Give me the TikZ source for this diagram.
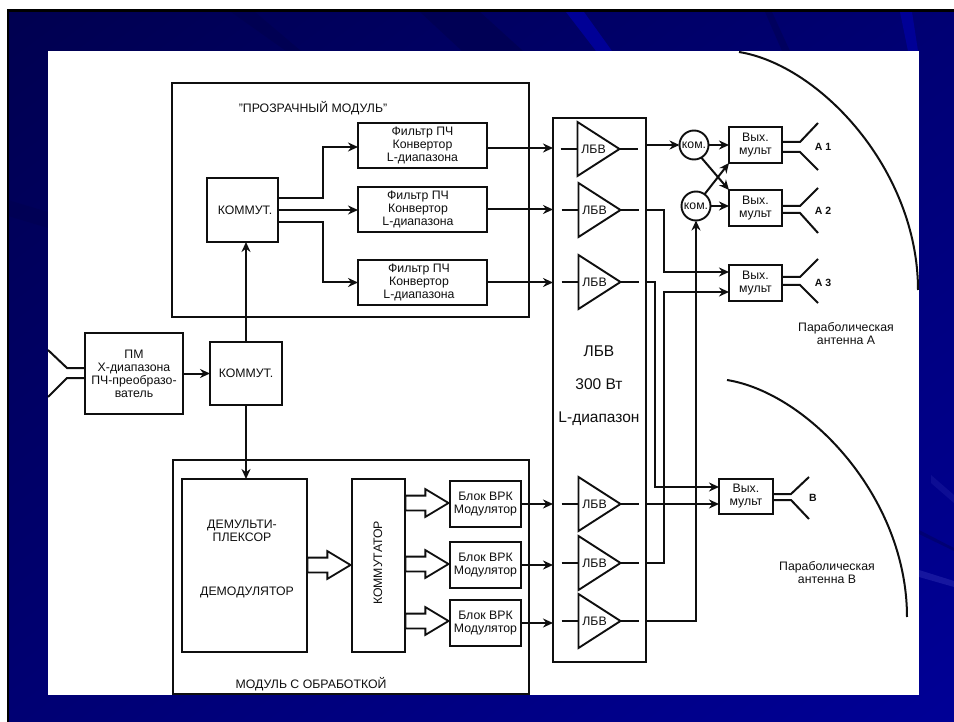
\documentclass[tikz,border=0pt]{standalone}
\usepackage{fontspec}
\setmainfont{Liberation Sans}
\usepackage{xcolor}
\usetikzlibrary{
  shapes.geometric, shapes.arrows, arrows.meta, positioning, shadings
}
\definecolor{slidedark}{RGB}{0,0,80}
\definecolor{slidemid}{RGB}{0,0,115}
\definecolor{slidelight}{RGB}{0,0,150}
\definecolor{ink}{RGB}{15,15,15}
\definecolor{streak}{RGB}{90,90,210}

\begin{document}
\begin{tikzpicture}[
  x=1pt, y=-1pt,
  every node/.style={text=ink, inner sep=0pt, outer sep=0pt,
    font=\fontsize{12.3}{13}\selectfont, align=center},
  box/.style={rectangle, draw=ink, line width=1.9pt},
  frame/.style={box, minimum width=357pt, minimum height=234pt},
  filterbox/.style={box, minimum width=129pt, minimum height=45pt},
  blockbox/.style={box, minimum width=71pt, minimum height=46pt},
  muxbox/.style={box, minimum width=53pt, minimum height=36pt},
  swbox/.style={box, minimum width=72pt, minimum height=63pt},
  combox/.style={circle, draw=ink, line width=1.9pt, minimum size=29pt},
  tube/.style={isosceles triangle, isosceles triangle stretches,
    draw=ink, line width=1.9pt, minimum width=54pt, minimum height=42pt,
    anchor=west},
  hollow/.style={single arrow, draw=ink, fill=white, line width=1.8pt,
    inner ysep=6.5pt, minimum width=26pt, minimum height=43pt,
    single arrow head extend=6.5pt, single arrow tip angle=62, anchor=tail},
  note/.style={font=\fontsize{12.3}{13}\selectfont},
  wire/.style={draw=ink, line width=2pt},
  arrow/.style={wire, -{Stealth[length=10pt,width=9pt]}}
]
\useasboundingbox (0,0) rectangle (954,722);

% slide background
\fill[white] (0,0) rectangle (954,722);
\shade[upper left=slidedark, upper right=slidemid,
       lower left=slidemid, lower right=slidelight] (8,10) rectangle (954,722);
\fill[slidedark, opacity=.7] (231,12) -- (255,12) -- (301,51) -- (286,51) -- cycle;
\fill[slidedark, opacity=.7] (420,12) -- (480,12) -- (523,51) -- (462,51) -- cycle;
\fill[slidelight] (566,12) -- (584,12) -- (612,51) -- (596,51) -- cycle;
\fill[slidedark, opacity=.5] (765,12) -- (772,12) -- (790,51) -- (782,51) -- cycle;
\fill[slidelight] (900,12) -- (912,12) -- (918,51) -- (908,51) -- cycle;
\fill[slidedark, opacity=.5] (8,200) -- (48,212) -- (48,228) -- (8,216) -- cycle;
\fill[streak, opacity=.25] (919,570) -- (954,581) -- (954,587) -- (919,577) -- cycle;
\fill[streak, opacity=.15] (931,475) -- (954,495) -- (954,503) -- (931,483) -- cycle;
\fill[slidedark, opacity=.4] (919,530) -- (954,548) -- (954,551) -- (919,534) -- cycle;
\draw[black, line width=2.5pt] (8.2,722) -- (8.2,10.5) -- (954,10.5);
\fill[white] (48,51) rectangle (919,695);

% input and switches
\node[box, minimum width=98pt, minimum height=81pt] (pm) at (134,373.5)
  {ПМ\\Х-диапазона\\ПЧ-преобразо-\\ватель};
\node[swbox, right=27pt of pm] (swin) {КОММУТ.};
\coordinate (pmup) at (48,350);
\coordinate (pmdown) at (48,397);
\draw[wire] ([yshift=5.5pt]pm.west) -- ++(-18,0) -- (pmup);
\draw[wire] ([yshift=-4.5pt]pm.west) -- ++(-18,0) -- (pmdown);
\draw[arrow] (pm) -- (swin);

% transparent module
\node[frame] (modA) at (350.5,200) {};
\node[note] (modAtext) at (313,108) {"ПРОЗРАЧНЫЙ МОДУЛЬ"};
\node[box, minimum width=71pt, minimum height=64pt] (swA) at (242.5,210) {\hspace*{5pt}КОММУТ.};
\node[filterbox] (filt1) at (422.5,145.5) {Фильтр ПЧ\\Конвертор\\L-диапазона};
\node[filterbox, below=19pt of filt1,
      label={[note,xshift=-4.5pt]center:Фильтр ПЧ\\Конвертор\\L-диапазона}] (filt2) {};
\node[filterbox, below=28pt of filt2,
      label={[note,xshift=-3.5pt]center:Фильтр ПЧ\\Конвертор\\L-диапазона}] (filt3) {};
\draw[arrow] (swin.north) -- (swin.north |- swA.south);
\draw[arrow] ([yshift=12pt]swA.east) -- ++(45,0) |- ([yshift=-1.5pt]filt1.west);
\draw[arrow] (swA.east) -- (filt2.west |- swA.east);
\draw[arrow] ([yshift=-12pt]swA.east) -- ++(45,0) |- (filt3.west);

% processing module
\node[frame, minimum width=356pt] (modB) at (351,577) {};
\node[note] (modBtext) at (311,684) {МОДУЛЬ С ОБРАБОТКОЙ};
\node[box, minimum width=125pt, minimum height=173pt] (demux) at (244.5,565.5) {};
\node[note] (demuxtext) at (242,531) {ДЕМУЛЬТИ-\\ПЛЕКСОР};
\node[note] (demodtext) at (247,592) {ДЕМОДУЛЯТОР};
\node[box, minimum width=53pt, minimum height=173pt] (comm) at (378.5,565.5) {};
\node[note, rotate=90] (commtext) at (378,563) {КОММУТАТОР};
\node[blockbox] (mod1) at (485.5,504) {Блок ВРК\\Модулятор};
\node[blockbox] (mod2) at (485.5,565) {Блок ВРК\\Модулятор};
\node[blockbox] (mod3) at (485.5,623) {Блок ВРК\\Модулятор};
\draw[arrow] (swin.south) -- (swin.south |- demux.north);
\node[hollow] (bus0) at (307.5,565) {};
\node[hollow] (bus1) at (405.5,503) {};
\node[hollow] (bus2) at (405.5,564) {};
\node[hollow] (bus3) at (405.5,621) {};

% tube amplifiers
\node[box, minimum width=93pt, minimum height=544pt] (lbv) at (599.5,390) {};
\node[note, font=\fontsize{15.5}{33}\selectfont] (lbvtext) at (599,386) {ЛБВ\\300 Вт\\L-диапазон};
\node[tube] (tube1) at (577.5,149) {ЛБВ};
\node[tube] (tube2) at (578.5,210) {ЛБВ};
\node[tube] (tube3) at (578.5,282) {ЛБВ};
\node[tube] (tube4) at (578.5,504) {ЛБВ};
\node[tube] (tube5) at (578.5,563) {ЛБВ};
\node[tube] (tube6) at (578.5,621) {ЛБВ};
\draw[wire] ([xshift=-17pt]tube1.west) -- (tube1.west);
\draw[wire] ([xshift=-17pt]tube2.west) -- (tube2.west);
\draw[wire] ([xshift=-17pt]tube3.west) -- (tube3.west);
\draw[wire] ([xshift=-17pt]tube4.west) -- (tube4.west);
\draw[wire] ([xshift=-17pt]tube5.west) -- (tube5.west);
\draw[wire] ([xshift=-17pt]tube6.west) -- (tube6.west);
\draw[wire] (tube1.apex) -- ++(18,0);
\draw[wire] (tube2.apex) -- ++(18,0);
\draw[wire] (tube3.apex) -- ++(18,0);
\draw[wire] (tube4.apex) -- ++(18,0);
\draw[wire] (tube5.apex) -- ++(18,0);
\draw[wire] (tube6.apex) -- ++(18,0);
\draw[arrow] ([yshift=-2.5pt]filt1.east) -- ([yshift=-2.5pt]filt1.east -| lbv.west);
\draw[arrow] (filt2.east) -- (filt2.east -| lbv.west);
\draw[arrow] (filt3.east) -- (filt3.east -| lbv.west);
\draw[arrow] (mod1.east) -- (mod1.east -| lbv.west);
\draw[arrow] (mod2.east) -- (mod2.east -| lbv.west);
\draw[arrow] (mod3.east) -- (mod3.east -| lbv.west);

% output multiplexers
\node[combox] (com1) at (694,145) {ком.};
\node[combox] (com2) at (696,206) {ком.};
\node[muxbox] (mux1) at (755.5,145) {Вых.\\мульт};
\node[muxbox, below=27pt of mux1] (mux2) {Вых.\\мульт};
\node[muxbox, below=39pt of mux2] (mux3) {Вых.\\мульт};
\node[muxbox, minimum width=54pt, minimum height=35pt] (muxb) at (746,496.5) {Вых.\\мульт};
\draw[arrow] (lbv.east |- com1) -- (com1);
\draw[arrow] (com1) -- (mux1);
\draw[arrow] (com1.-60) -- (mux2.north west);
\draw[arrow] (com2.54) -- (mux1.south west);
\draw[arrow] (com2.east) -- (com2.east -| mux2.west);
\draw[arrow] (lbv.east |- tube2) -- ++(18,0) |- ([yshift=11pt]mux3.west);
\draw[arrow] (lbv.east |- tube3) -- ++(9,0) |- ([yshift=9.5pt]muxb.west);
\draw[arrow] (lbv.east |- tube4) -- ([yshift=-7.5pt]muxb.west);
\draw[arrow] (lbv.east |- tube5) -- ++(18,0) |- ([yshift=-9pt]mux3.west);
\draw[arrow] (lbv.east |- tube6) -| (com2.south);

% feed horns
\coordinate (a1up) at (818,123);
\coordinate (a1down) at (818,170);
\coordinate (a2up) at (818,188);
\coordinate (a2down) at (818,233);
\coordinate (a3up) at (818,259);
\coordinate (a3down) at (818,303);
\coordinate (bup) at (809,477);
\coordinate (bdown) at (809,519);
\draw[wire] ([yshift=3pt]mux1.east) -- ++(18,0) -- (a1up);
\draw[wire] ([yshift=-7pt]mux1.east) -- ++(18,0) -- (a1down);
\draw[wire] ([yshift=2pt]mux2.east) -- ++(18,0) -- (a2up);
\draw[wire] ([yshift=-5pt]mux2.east) -- ++(18,0) -- (a2down);
\draw[wire] ([yshift=6pt]mux3.east) -- ++(18,0) -- (a3up);
\draw[wire] ([yshift=-2pt]mux3.east) -- ++(18,0) -- (a3down);
\draw[wire] ([yshift=2.5pt]muxb.east) -- ++(18,0) -- (bup);
\draw[wire] ([yshift=-3.5pt]muxb.east) -- ++(18,0) -- (bdown);
\node[note, font=\bfseries\fontsize{10.5}{13}\selectfont] (a1text) at (823,147) {А 1};
\node[note, font=\bfseries\fontsize{10.5}{13}\selectfont] (a2text) at (823,211) {А 2};
\node[note, font=\bfseries\fontsize{10.5}{13}\selectfont] (a3text) at (823,283) {А 3};
\node[note, font=\bfseries\fontsize{10.5}{13}\selectfont] (btext) at (813,498) {В};

% parabolic dishes
\draw[wire] (739,52) .. controls (820,65) and (918,170) .. (918,290);
\draw[wire] (727,380) .. controls (808,393) and (907,497) .. (907,617);
\node[note] (dishA) at (846,333.5) {Параболическая\\антенна А};
\node[note] (dishB) at (827,573) {Параболическая\\антенна В};
\end{tikzpicture}
\end{document}
